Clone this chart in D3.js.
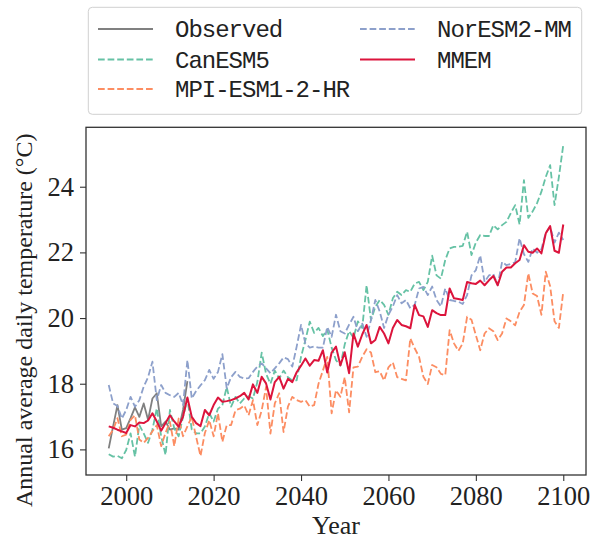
<!DOCTYPE html>
<html><head><meta charset="utf-8">
<script src="https://cdn.jsdelivr.net/npm/d3@7"></script>
<style>body{margin:0;background:#fff}</style>
</head><body>
<svg id="chart" width="598" height="544"></svg>
<script>
const years = d3.range(1996, 2101);
const observedYears = d3.range(1996, 2015);
const observed = [16.03,16.70,17.35,16.60,16.65,16.95,17.28,16.99,17.40,16.90,17.55,17.71,16.70,16.85,16.60,16.64,16.60,17.20,18.08];
const canESM5 = [
15.85,15.78,15.80,15.73,15.98,16.49,15.78,16.74,16.49,16.20,
16.60,17.25,16.40,15.83,17.20,16.64,16.40,16.99,17.55,16.60,
16.49,16.49,16.70,17.10,16.85,17.24,17.35,17.90,17.30,17.60,
17.40,17.55,17.62,17.55,18.05,18.95,18.30,18.00,18.40,18.16,
18.40,18.20,18.10,18.10,18.82,19.33,19.89,19.55,19.70,19.45,
19.65,19.10,18.72,18.55,19.20,19.60,19.40,19.90,19.70,21.00,
19.94,20.34,20.55,20.40,20.10,20.60,20.80,20.70,20.85,20.80,
21.05,21.10,20.85,21.10,21.90,21.30,21.20,21.77,22.12,22.17,
22.17,22.20,22.63,21.92,22.30,22.53,22.50,22.50,22.83,22.70,
22.83,22.93,23.20,23.44,22.85,24.20,23.05,23.25,23.50,23.85,
24.30,24.66,23.44,24.30,25.27];
const mpiESM = [
16.40,16.60,16.95,16.40,16.45,16.90,17.04,16.30,16.20,16.35,
16.55,16.74,16.10,16.50,16.84,16.10,16.94,16.40,16.70,16.99,
16.38,15.80,16.50,16.89,16.40,17.10,16.23,16.74,16.74,17.19,
17.24,17.34,17.04,17.50,16.74,17.19,17.90,16.48,17.40,17.71,
16.53,17.30,17.60,17.50,17.45,17.50,17.30,17.35,18.00,18.40,
18.82,17.10,17.80,17.60,18.20,17.13,18.50,18.52,18.82,19.05,
18.95,18.35,18.38,18.10,18.50,18.65,18.20,18.15,18.10,19.38,
19.08,18.82,18.21,17.99,18.57,18.50,18.30,18.26,19.63,19.23,
19.00,19.23,20.04,19.95,19.48,19.02,19.53,19.69,19.60,19.33,
19.53,19.99,19.90,19.78,20.19,20.40,21.36,20.75,20.67,20.10,
21.41,20.97,19.90,19.70,20.80];
const norESM = [
17.96,17.40,17.32,16.94,17.20,17.60,17.30,17.50,17.91,18.20,
18.67,17.50,17.96,17.72,17.65,17.60,17.72,17.35,18.72,17.55,
17.78,17.95,18.11,18.42,18.15,18.36,18.90,17.86,18.20,18.36,
18.21,18.16,18.17,18.36,18.52,18.62,18.47,18.32,18.47,18.62,
18.80,18.75,18.52,19.13,19.79,19.23,19.10,19.13,19.10,19.10,
19.73,19.43,20.10,19.60,19.53,19.80,20.04,19.60,19.83,19.43,
19.94,20.55,20.20,19.70,20.10,20.35,20.70,20.45,20.55,20.30,
20.40,20.90,20.95,20.70,20.96,20.55,20.35,20.90,20.55,20.52,
20.50,20.43,20.70,21.30,21.46,21.91,21.10,21.30,21.34,21.00,
21.71,21.61,21.65,21.70,22.43,21.95,21.71,22.12,21.99,22.10,
22.60,22.78,22.30,22.60,22.38];
const mmem = [
16.70,16.66,16.60,16.55,16.50,16.74,16.70,16.82,16.80,16.88,
17.10,16.85,16.57,16.80,17.04,16.85,16.69,17.00,17.58,16.99,
16.80,16.71,17.20,17.04,17.35,17.58,17.45,17.47,17.50,17.55,
17.62,17.72,17.52,17.98,17.72,18.21,18.01,17.52,18.05,18.21,
17.85,18.15,18.05,18.35,18.55,18.77,18.55,18.72,18.70,19.02,
18.34,18.95,19.13,18.56,18.96,18.32,19.53,19.13,19.50,19.79,
19.23,19.33,19.73,19.53,19.23,19.70,19.94,19.79,19.75,19.69,
20.40,20.09,20.05,19.73,20.24,20.15,20.09,20.09,20.90,20.60,
20.58,20.55,21.10,21.06,21.04,21.14,21.00,21.15,21.28,21.00,
21.41,21.54,21.54,21.67,21.77,22.22,22.02,21.99,22.12,21.97,
22.58,22.80,22.05,21.99,22.85];
const xTicks = [2000, 2020, 2040, 2060, 2080, 2100];
const yTicks = [16, 18, 20, 22, 24];
const seriesNames = ["Observed", "CanESM5", "MPI-ESM1-2-HR", "NorESM2-MM", "MMEM"];
const seriesColors = ["#808080", "#66c2a5", "#fc8d62", "#8da0cb", "#dc143c"];
const seriesDash = [null, "6.7,2.9", "6.7,2.9", "6.7,2.9", null];
const seriesWidth = [1.8, 1.8, 1.8, 1.8, 2.0];

const series = [
  {name: seriesNames[0], xs: observedYears, ys: observed},
  {name: seriesNames[1], xs: years, ys: canESM5},
  {name: seriesNames[2], xs: years, ys: mpiESM},
  {name: seriesNames[3], xs: years, ys: norESM},
  {name: seriesNames[4], xs: years, ys: mmem}
];
series.forEach((s, i) => { s.color = seriesColors[i]; s.dash = seriesDash[i]; s.width = seriesWidth[i]; });

const svg = d3.select("#chart");
const L = 86, R = 586, T = 127.3, B = 475;
const x = d3.scaleLinear().domain([1990.8, 2105.2]).range([L, R]);
const y = d3.scaleLinear().domain([15.22, 25.81]).range([B, T]);

const line = d3.line().x(d => x(d[0])).y(d => y(d[1]));
const plot = svg.append("g");
series.forEach(s => {
  const pts = s.xs.map((yr, i) => [yr, s.ys[i]]);
  plot.append("path").datum(pts)
    .attr("d", line)
    .attr("fill", "none")
    .attr("stroke", s.color)
    .attr("stroke-width", s.width)
    .attr("stroke-dasharray", s.dash)
    .attr("stroke-linejoin", "round");
});

// frame
svg.append("rect").attr("x", L).attr("y", T).attr("width", R - L).attr("height", B - T)
  .attr("fill", "none").attr("stroke", "#333").attr("stroke-width", 1.3);

const xAxis = svg.append("g").attr("transform", `translate(0,${B})`)
  .call(d3.axisBottom(x).tickValues(xTicks).tickFormat(d3.format("d")).tickSize(6).tickPadding(5));
const yAxis = svg.append("g").attr("transform", `translate(${L},0)`)
  .call(d3.axisLeft(y).tickValues(yTicks).tickFormat(d3.format("d")).tickSize(6).tickPadding(6));
[xAxis, yAxis].forEach(a => {
  a.select(".domain").remove();
  a.selectAll(".tick line").attr("stroke", "#333").attr("stroke-width", 1.1);
  a.selectAll(".tick text").attr("fill", "#222")
    .style("font-family", "'Liberation Serif', 'Times New Roman', serif")
    .style("font-size", "26.5px");
});

svg.append("text").attr("x", (L + R) / 2).attr("y", 534)
  .attr("text-anchor", "middle").attr("fill", "#222")
  .style("font-family", "'Liberation Serif', serif").style("font-size", "26px")
  .text("Year");
svg.append("text").attr("transform", "translate(32,507) rotate(-90)")
  .attr("text-anchor", "start").attr("fill", "#222")
  .style("font-family", "'Liberation Serif', serif").style("font-size", "24px")
  .text("Annual average daily temperature (°C)");

// legend
const lg = svg.append("g");
lg.append("rect").attr("x", 88.3).attr("y", 7.3).attr("width", 493.4).attr("height", 107)
  .attr("rx", 4).attr("fill", "#fff").attr("fill-opacity", 0.85)
  .attr("stroke", "#d0d0d0").attr("stroke-width", 1);
const legPos = [[98, 29], [98, 59.5], [98, 89], [360, 29], [360, 59.5]];
series.forEach((s, i) => {
  const [lx, ly] = legPos[i];
  lg.append("line").attr("x1", lx).attr("x2", lx + 55).attr("y1", ly).attr("y2", ly)
    .attr("stroke", s.color).attr("stroke-width", s.width).attr("stroke-dasharray", s.dash);
  lg.append("text").attr("x", lx + 77).attr("y", ly + 8)
    .attr("fill", "#222")
    .style("font-family", "'Liberation Mono', 'DejaVu Sans Mono', monospace")
    .style("font-size", "24px").style("letter-spacing", "-1px")
    .text(s.name);
});
</script>
</body></html>
